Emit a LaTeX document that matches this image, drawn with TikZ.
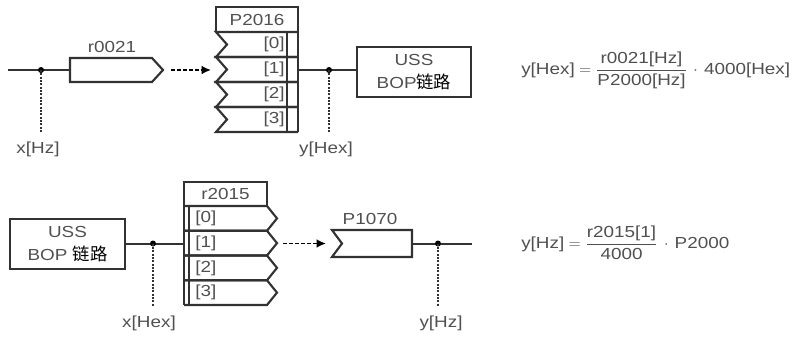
\documentclass[tikz,border=0pt]{standalone}
\usepackage{amsmath}
\usepackage{fontspec}
\setmainfont{Liberation Sans}[FakeStretch=1.18]
\newfontfamily\cjk{Noto Sans CJK SC}
\usetikzlibrary{positioning,arrows.meta,calc}
\definecolor{LineGray}{RGB}{50,50,50}
\definecolor{TextGray}{RGB}{80,80,80}
\newcommand\zh[1]{{\cjk\fontsize{13}{17}\selectfont\color{black}#1}}

\begin{document}
\begin{tikzpicture}[x=0.75pt,y=-0.75pt,
font=\fontsize{12}{17}\selectfont,
lbl/.style={text=TextGray,inner sep=0pt},
box/.style={rectangle,draw=LineGray,line width=1.6pt,minimum height=37.5pt,align=center,text=TextGray,inner sep=0pt},
title/.style={lbl,draw=LineGray,line width=1.6pt,minimum height=18.5pt},
blk/.style={draw=LineGray,line width=1.6pt},
wire/.style={draw=LineGray,line width=1.5pt},
probe/.style={draw=LineGray,line width=1.5pt,dash pattern=on 1.5pt off 1pt},
dot/.style={circle,fill=black,inner sep=0pt,minimum size=4.5pt},
arrow/.style={-{Latex[length=7pt,width=6.5pt]},draw=black,line width=1.3pt,dash pattern=on 3pt off 1.5pt}
]
\useasboundingbox (0,0) rectangle (797,336);

% upper chain: r0021 -> P2016 -> USS
\coordinate (xin) at (8,70);
\coordinate (r21in) at (70,70);
\draw[blk] (70,58) -- (152,58) -- (163,70) -- (152,82) -- (70,82) -- cycle;
\node[lbl] (r21) at (112,47) {r0021};
\draw[wire] (xin) -- (r21in);
\node[dot] (d1) at (41,70) {};
\draw[probe] (d1.center) -- ++(0,62);
\node[lbl] (xhz) at (38,149) {x[Hz]};

\coordinate (a1s) at (171,70);
\coordinate (a1e) at (211,70);
\draw[arrow] (a1s) -- (a1e);

\node[title,minimum width=61.5pt] (p16) at (257,19.5) {P2016};
\foreach \i in {0,...,3} {
  \pgfmathsetmacro\ya{32+25*\i}
  \draw[blk] (298,\ya) -- (216,\ya) -- (227,\ya+12.5) -- (216,\ya+25) -- (298,\ya+25);
  \node[lbl,anchor=east] (p16r\i) at (285,\ya+12.5) {[\i]};
}
\draw[blk] (287,32) -- (287,132);
\draw[blk] (298,32) -- (298,132);

\node[box,minimum width=85.5pt] (uss1) at (414,72) {USS\\BOP\zh{链路}};
\coordinate (p16out) at (298,70);
\draw[wire] (p16out) -- (uss1.west |- p16out);
\node[dot] (d2) at (329,70) {};
\draw[probe] (d2.center) -- ++(0,62);
\node[lbl] (yhex) at (326,149) {y[Hex]};

\node[lbl,anchor=west] (f1) at (521,70) {$\text{y[Hex]} \mathrel{=} \dfrac{\text{r0021[Hz]}}{\text{P2000[Hz]}}\,\cdot\,\text{4000[Hex]}$};

% lower chain: USS -> r2015 -> P1070
\node[box,minimum width=86.25pt] (uss2) at (67.5,244) {USS\\BOP \zh{链路}};
\node[title,minimum width=62.25pt] (r15) at (225.5,194) {r2015};
\foreach \i in {0,...,3} {
  \pgfmathsetmacro\ya{206+24.75*\i}
  \draw[blk] (184,\ya) -- (267,\ya) -- (277,\ya+12.375) -- (267,\ya+24.75) -- (184,\ya+24.75);
  \node[lbl,anchor=west] (r15r\i) at (195,\ya+12.375) {[\i]};
}
\draw[blk] (184,206) -- (184,305);
\draw[blk] (189,206) -- (189,305);

\coordinate (r15in) at (184,243.5);
\draw[wire] (uss2.east |- r15in) -- (r15in);
\node[dot] (d3) at (153,243.5) {};
\draw[probe] (d3.center) -- ++(0,62);
\node[lbl] (xhex) at (149,323) {x[Hex]};

\coordinate (a2s) at (283,243.5);
\coordinate (a2e) at (326,243.5);
\draw[arrow] (a2s) -- (a2e);

\draw[blk] (332,230) -- (412,230) -- (412,257) -- (332,257) -- (342,243.5) -- cycle;
\node[lbl] (p1070) at (370,219) {P1070};
\coordinate (p10out) at (412,243.5);
\coordinate (yout) at (472,243.5);
\draw[wire] (p10out) -- (yout);
\node[dot] (d4) at (438,243.5) {};
\draw[probe] (d4.center) -- ++(0,62);
\node[lbl] (yhz) at (441,323) {y[Hz]};

\node[lbl,anchor=west] (f2) at (521,243) {$\text{y[Hz]} \mathrel{=} \dfrac{\text{r2015[1]}}{\text{4000}}\,\cdot\,\text{P2000}$};
\end{tikzpicture}
\end{document}
